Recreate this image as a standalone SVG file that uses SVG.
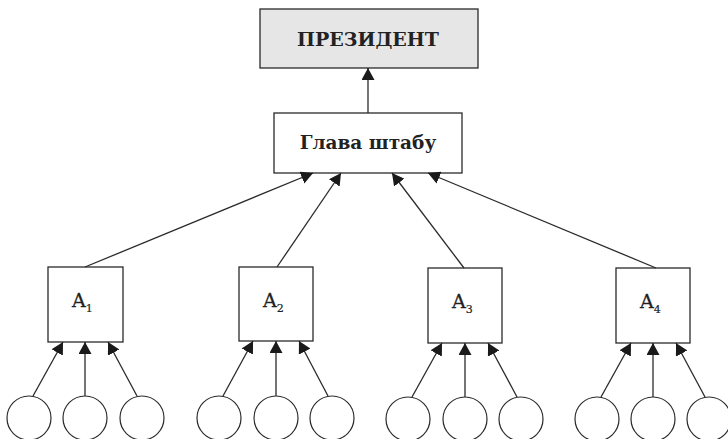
<svg xmlns="http://www.w3.org/2000/svg" width="728" height="439" viewBox="0 0 728 439">
<style>
.box{fill:#fff;stroke:#2a2a2a;stroke-width:1.3}
.pres{fill:#e6e6e6;stroke:#2a2a2a;stroke-width:1.3}
.circ{fill:#fff;stroke:#2a2a2a;stroke-width:1.2}
.ln{stroke:#2a2a2a;stroke-width:1.3;fill:none;marker-end:url(#ah)}
.t{font-family:"DejaVu Serif","Liberation Serif",serif;font-weight:bold;fill:#222;text-anchor:middle}
.a{font-family:"DejaVu Serif","Liberation Serif",serif;fill:#222;font-size:19px;stroke:#222;stroke-width:0.3}
.s{font-size:11px;stroke-width:0.2}
</style>
<defs>
<marker id="ah" markerUnits="userSpaceOnUse" markerWidth="12" markerHeight="13" refX="12" refY="6.5" orient="auto" viewBox="0 0 12 13">
<path d="M0,0 L12,6.5 L0,13 z" fill="#1a1a1a"/>
</marker>
</defs>
<g id="president"><rect class="pres" x="260" y="9" width="218" height="59"/><text class="t" x="368" y="46" font-size="19">ПРЕЗИДЕНТ</text></g>
<g id="chief"><rect class="box" x="274" y="113" width="188" height="60"/><text class="t" x="368" y="149" font-size="18.5">Глава штабу</text></g>
<g id="a1"><rect class="box" x="48" y="267" width="75" height="75"/><text class="a" x="72" y="307">A<tspan class="s" dy="5">1</tspan></text></g>
<g id="a2"><rect class="box" x="239" y="267" width="74" height="74"/><text class="a" x="263" y="307">A<tspan class="s" dy="5">2</tspan></text></g>
<g id="a3"><rect class="box" x="428" y="268" width="74" height="75"/><text class="a" x="452" y="308">A<tspan class="s" dy="5">3</tspan></text></g>
<g id="a4"><rect class="box" x="616" y="268" width="74" height="75"/><text class="a" x="640" y="308">A<tspan class="s" dy="5">4</tspan></text></g>
<g id="circles">
<circle class="circ" cx="29" cy="418" r="22"/><circle class="circ" cx="85" cy="418" r="22"/><circle class="circ" cx="142" cy="418" r="22"/>
<circle class="circ" cx="219" cy="418" r="22"/><circle class="circ" cx="276" cy="418" r="22"/><circle class="circ" cx="332" cy="418" r="22"/>
<circle class="circ" cx="408" cy="419" r="22"/><circle class="circ" cx="465" cy="419" r="22"/><circle class="circ" cx="521" cy="419" r="22"/>
<circle class="circ" cx="597" cy="419" r="22"/><circle class="circ" cx="653" cy="419" r="22"/><circle class="circ" cx="709" cy="419" r="22"/>
</g>
<g id="connectors">
<line class="ln" x1="368" y1="113" x2="368" y2="68"/>
<line class="ln" x1="85" y1="267" x2="313" y2="173"/>
<line class="ln" x1="277" y1="267" x2="341" y2="173"/>
<line class="ln" x1="464" y1="268" x2="392" y2="173"/>
<line class="ln" x1="656" y1="268" x2="428" y2="173"/>
<line class="ln" x1="33" y1="396" x2="63" y2="342"/>
<line class="ln" x1="85" y1="396" x2="85" y2="342"/>
<line class="ln" x1="137" y1="396" x2="108" y2="342"/>
<line class="ln" x1="223" y1="396" x2="253" y2="341"/>
<line class="ln" x1="276" y1="396" x2="276" y2="341"/>
<line class="ln" x1="328" y1="396" x2="299" y2="341"/>
<line class="ln" x1="412" y1="397" x2="442" y2="343"/>
<line class="ln" x1="465" y1="397" x2="465" y2="343"/>
<line class="ln" x1="517" y1="397" x2="488" y2="343"/>
<line class="ln" x1="601" y1="397" x2="631" y2="343"/>
<line class="ln" x1="653" y1="397" x2="653" y2="343"/>
<line class="ln" x1="705" y1="397" x2="676" y2="343"/>
</g>
</svg>
